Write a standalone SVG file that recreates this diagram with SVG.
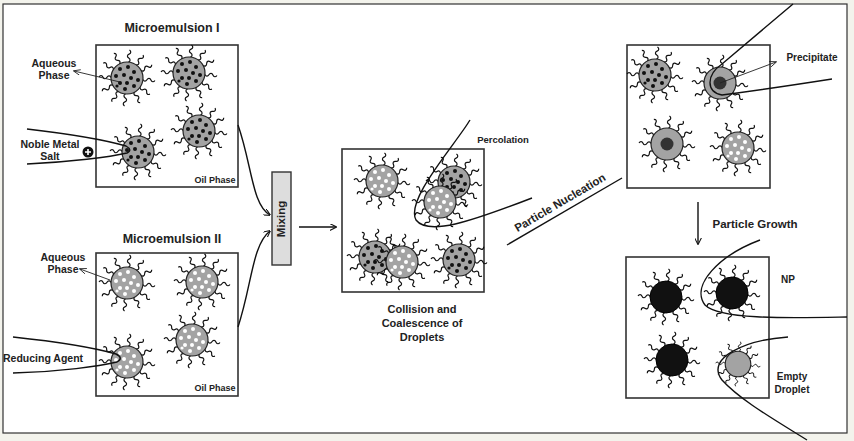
<svg xmlns="http://www.w3.org/2000/svg" xmlns:xlink="http://www.w3.org/1999/xlink" width="854" height="441" viewBox="0 0 854 441">
<style>
.box{fill:#fff;stroke:#333;stroke-width:1.6}
.ln{fill:none;stroke:#111;stroke-width:1.4}
.thin{fill:none;stroke:#222;stroke-width:0.9}
.t{font-family:"Liberation Sans",Arial,sans-serif;font-weight:bold;fill:#222}
.drop{fill:#a3a3a3;stroke:#222;stroke-width:1.2}
.tail{fill:none;stroke:#111;stroke-width:1.2}
</style>
<defs>
<marker id="ah" viewBox="0 0 10 10" refX="9" refY="5" markerWidth="7" markerHeight="7" orient="auto" markerUnits="userSpaceOnUse">
<path d="M0,0 L10,5 L0,10" fill="none" stroke="#111" stroke-width="1.5"/>
</marker>
<marker id="ahs" viewBox="0 0 10 10" refX="9" refY="5" markerWidth="7" markerHeight="7" orient="auto" markerUnits="userSpaceOnUse">
<path d="M0,1 L10,5 L0,9" fill="none" stroke="#222" stroke-width="1.2"/>
</marker>
<path id="w" class="tail" d="M0,-16 c2,-1 2,-3 0,-4 c-2,-1 -2,-3 0,-4 c2,-1 2,-3 0,-4"/>
<g id="tails">
<use xlink:href="#w" transform="rotate(5)"/><use xlink:href="#w" transform="rotate(35)"/><use xlink:href="#w" transform="rotate(62)"/><use xlink:href="#w" transform="rotate(95)"/><use xlink:href="#w" transform="rotate(125)"/><use xlink:href="#w" transform="rotate(152)"/><use xlink:href="#w" transform="rotate(185)"/><use xlink:href="#w" transform="rotate(212)"/><use xlink:href="#w" transform="rotate(242)"/><use xlink:href="#w" transform="rotate(272)"/><use xlink:href="#w" transform="rotate(302)"/><use xlink:href="#w" transform="rotate(332)"/>
</g>
<g id="dots">
<circle cx="-7" cy="-9" r="2"/><circle cx="1" cy="-11" r="2"/><circle cx="7" cy="-6" r="2"/><circle cx="-11" cy="-2" r="2"/><circle cx="-3" cy="-3" r="2"/><circle cx="4" cy="0" r="2"/><circle cx="11" cy="2" r="2"/><circle cx="-7" cy="5" r="2"/><circle cx="0" cy="5" r="2"/><circle cx="7" cy="8" r="2"/><circle cx="-2" cy="11" r="2"/><circle cx="-10" cy="8" r="1.6"/>
</g>
<g id="dB"><use xlink:href="#tails"/><circle class="drop" r="16"/><use xlink:href="#dots" fill="#111"/></g>
<g id="dW"><use xlink:href="#tails"/><circle class="drop" r="16"/><use xlink:href="#dots" fill="#fff"/></g>
<g id="dP"><use xlink:href="#tails"/><circle class="drop" r="16"/><circle r="6.5" fill="#333"/></g>
<g id="dN"><use xlink:href="#tails"/><circle r="16" fill="#111" stroke="#000"/></g>
</defs>
<rect width="854" height="441" fill="#f3f3ec"/>
<rect x="3" y="4" width="844" height="429" fill="#fff" stroke="#333" stroke-width="1.2"/>

<g id="microemulsion1">
<text class="t" x="172" y="32" font-size="12.5" text-anchor="middle">Microemulsion I</text>
<rect class="box" x="96" y="45" width="142" height="142"/>
<use xlink:href="#dB" x="127" y="78"/><use xlink:href="#dB" x="189" y="73"/><use xlink:href="#dB" x="199" y="131"/><use xlink:href="#dB" x="138" y="152"/>
<text class="t" x="215" y="183" font-size="9" text-anchor="middle">Oil Phase</text>
<text class="t" x="54" y="67" font-size="10.5" text-anchor="middle">Aqueous</text>
<text class="t" x="54" y="79" font-size="10.5" text-anchor="middle">Phase</text>
<line class="thin" x1="120" y1="82" x2="74" y2="71" marker-end="url(#ahs)"/>
<text class="t" x="50" y="148" font-size="10.5" text-anchor="middle">Noble Metal</text>
<text class="t" x="50" y="160" font-size="10.5" text-anchor="middle">Salt</text>
<circle cx="88" cy="152" r="5.5" fill="#111"/>
<path d="M85,152 h6 M88,149 v6" stroke="#fff" stroke-width="1.6"/>
<path class="ln" d="M27,129 C70,134 105,140 126,146 Q133,150 127,153 C110,157 70,162 27,164"/>
</g>

<g id="microemulsion2">
<text class="t" x="172" y="243" font-size="12.5" text-anchor="middle">Microemulsion II</text>
<rect class="box" x="96" y="253" width="142" height="143"/>
<use xlink:href="#dW" x="127" y="283"/><use xlink:href="#dW" x="202" y="282"/><use xlink:href="#dW" x="192" y="340"/><use xlink:href="#dW" x="127" y="362"/>
<text class="t" x="215" y="391" font-size="9" text-anchor="middle">Oil Phase</text>
<text class="t" x="63" y="261" font-size="10.5" text-anchor="middle">Aqueous</text>
<text class="t" x="63" y="273" font-size="10.5" text-anchor="middle">Phase</text>
<line class="thin" x1="110" y1="280" x2="80" y2="269" marker-end="url(#ahs)"/>
<text class="t" x="3" y="362" font-size="10.5">Reducing Agent</text>
<path class="ln" d="M13,337 C60,342 95,348 116,354 Q124,358 117,362 C100,366 60,372 13,373"/>
</g>

<g id="mixing">
<rect x="272" y="172" width="19" height="93" fill="#ddd" stroke="#333" stroke-width="1.4"/>
<text class="t" transform="translate(285,219) rotate(-90)" font-size="11.5" text-anchor="middle">Mixing</text>
</g>

<g id="collision">
<rect class="box" x="342" y="149" width="142" height="143"/>
<use xlink:href="#dW" x="382" y="181"/>
<use xlink:href="#dB" x="454" y="182"/><use xlink:href="#dW" x="440" y="202"/>
<use xlink:href="#dB" x="375" y="257"/><use xlink:href="#dW" x="402" y="262"/>
<use xlink:href="#dB" x="459" y="260"/>
<text class="t" x="503" y="143" font-size="9.5" text-anchor="middle">Percolation</text>
<text class="t" x="422" y="313" font-size="11" text-anchor="middle">Collision and</text>
<text class="t" x="422" y="327" font-size="11" text-anchor="middle">Coalescence of</text>
<text class="t" x="422" y="341" font-size="11" text-anchor="middle">Droplets</text>
</g>

<g id="nucleation">
<rect class="box" x="627" y="45" width="143" height="143"/>
<use xlink:href="#dB" x="655" y="75"/><use xlink:href="#dP" x="720" y="83"/>
<use xlink:href="#dP" x="667" y="144"/><use xlink:href="#dW" x="738" y="148"/>
<text class="t" x="812" y="61" font-size="10" text-anchor="middle">Precipitate</text>
<line class="thin" x1="720" y1="83" x2="776" y2="62" marker-end="url(#ahs)"/>
<text class="t" transform="translate(562,206) rotate(-30.5)" font-size="11.5" text-anchor="middle">Particle Nucleation</text>
</g>

<g id="growth">
<rect class="box" x="626" y="257" width="143" height="141"/>
<use xlink:href="#dN" x="666" y="297"/><use xlink:href="#dN" x="732" y="293"/>
<use xlink:href="#dN" x="672" y="360"/>
<g transform="translate(738,364) scale(0.8)"><use xlink:href="#tails"/><circle r="16" fill="#a3a3a3" stroke="#222" stroke-width="1.4"/></g>
<text class="t" x="755" y="228" font-size="11.5" text-anchor="middle">Particle Growth</text>
<text class="t" x="788" y="283" font-size="10" text-anchor="middle">NP</text>
<text class="t" x="792" y="380" font-size="10" text-anchor="middle">Empty</text>
<text class="t" x="792" y="393" font-size="10" text-anchor="middle">Droplet</text>
</g>

<g id="connectors">
<path class="ln" d="M238,125 C252,165 252,205 270,215" marker-end="url(#ah)"/>
<path class="ln" d="M238,327 C252,285 252,245 270,231" marker-end="url(#ah)"/>
<line class="ln" x1="299" y1="227" x2="336" y2="227" marker-end="url(#ah)"/>
<path class="ln" d="M470,120 C455,145 405,200 416,220 C428,236 470,222 532,198"/>
<line class="ln" x1="507" y1="245" x2="622" y2="178"/>
<path class="ln" d="M793,4 L722,64 C706,75 706,92 722,95 C760,90 800,84 832,79"/>
<line class="ln" x1="698" y1="202" x2="698" y2="244" marker-end="url(#ah)"/>
<path class="ln" d="M760,240 C720,255 690,285 705,305 C720,320 790,318 847,317"/>
<path class="ln" d="M788,337 C745,340 705,358 722,380 C740,400 775,420 807,440"/>
</g>
</svg>
